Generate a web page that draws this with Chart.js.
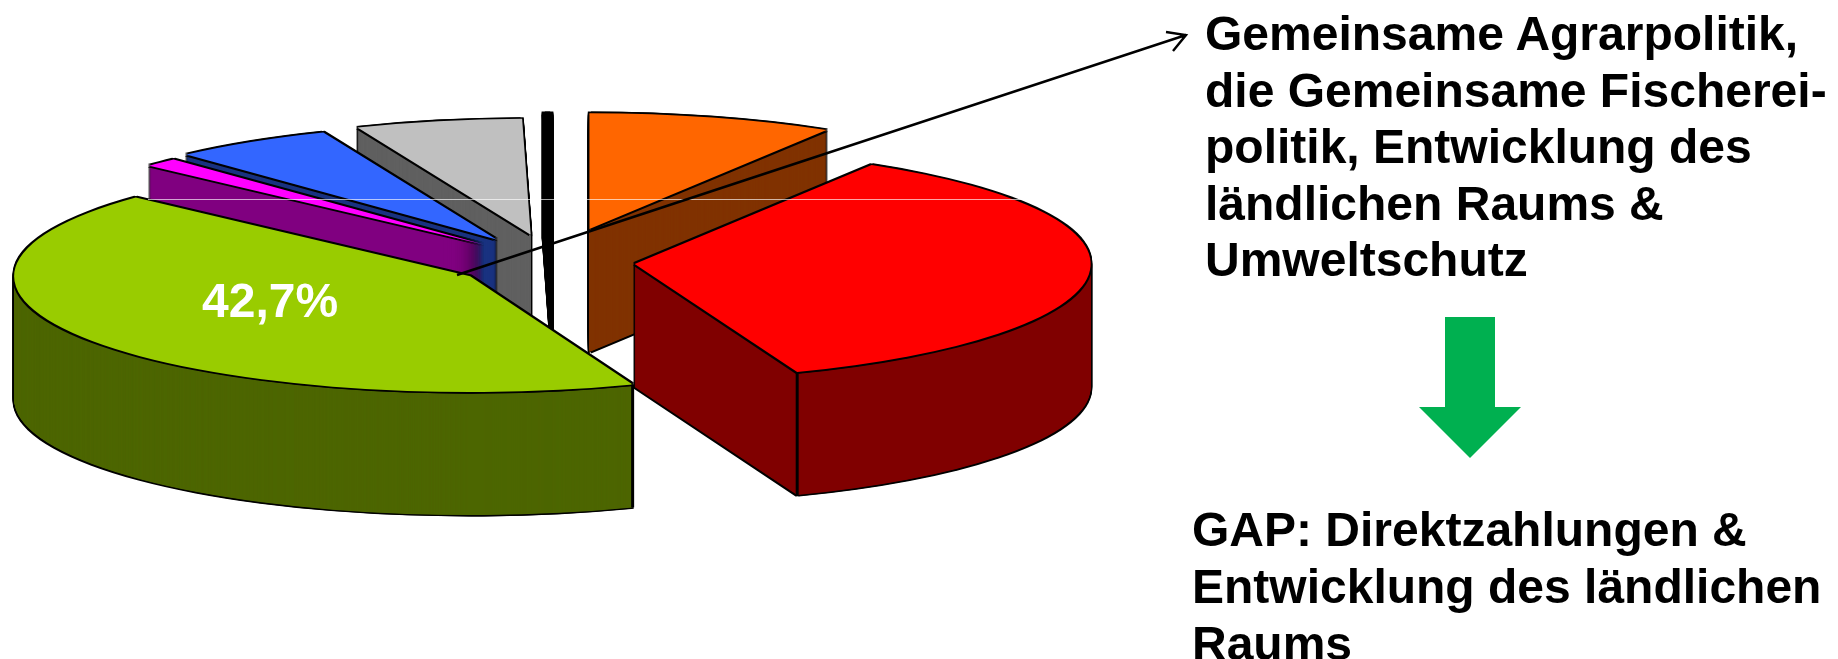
<!DOCTYPE html>
<html lang="de">
<head>
<meta charset="utf-8">
<title>GAP</title>
<script src="https://cdn.jsdelivr.net/npm/chart.js@4/dist/chart.umd.js"></script>
<style>
    html, body { margin: 0; background: #fff; overflow: hidden; }
    #wrap { position: relative; width: 1838px; height: 659px; overflow: hidden; }
    canvas { position: absolute; left: 0; top: 0; }
    .txt { position: absolute; font-family: "Liberation Sans", Arial, sans-serif; font-weight: bold; color: #000; white-space: nowrap; }
    #topText { left: 1205px; top: 6px; font-size: 48px; line-height: 56.5px; }
    #bottomText { left: 1192px; top: 501px; font-size: 48px; line-height: 57px; }
    #pieLabel { left: 202px; top: 274px; font-size: 48px; line-height: 54px; color: #fff; }
</style>
</head>
<body>
<div id="wrap">
    <canvas id="pie" width="1838" height="659"></canvas>
    <div class="txt" id="pieLabel"></div>
    <div class="txt" id="topText">Gemeinsame Agrarpolitik,<br>die Gemeinsame Fischerei-<br>politik, Entwicklung des<br>ländlichen Raums &amp;<br>Umweltschutz</div>
    <div class="txt" id="bottomText">GAP: Direktzahlungen &amp;<br>Entwicklung des ländlichen<br>Raums</div>
</div>
<script>
// values, clockwise from 12 o'clock
const categories = ['Orange', 'Rot', 'Grün', 'Magenta', 'Blau', 'Grau', 'Schwarz'];
const values = [8.7, 35.5, 42.7, 1.2, 5.7, 5.9, 0.3];
const labelledIndex = 2;

const topColors = ['#FF6600', '#FF0000', '#99CC00', '#FF00FF', '#3366FF', '#C0C0C0', '#000000'];
const sideColors = ['#803300', '#800000', '#4D6600', '#800080', '#1A3380', '#606060', '#000000'];
// Chart.js moves a slice by offset / 4
const explode = [540, 328, 400, 392, 420, 440, 520];

const PIE_RADIUS = 456;
const SQUASH = 0.254;   // y scale of the tilted disc
const DEPTH = 123;      // wall height on screen
const OUTLINE = 1.6;

// draw an arc element again in another colour, shifted in screen pixels
function redraw(arc, ctx, color, dx, dy) {
    const original = arc.options;
    ctx.save();
    ctx.translate(dx, dy / SQUASH);
    arc.options = Object.create(original, {
        backgroundColor: { value: color },
        borderWidth: { value: 0 }
    });
    arc.draw(ctx);
    arc.options = original;
    ctx.restore();
}

const tiltedPie = {
    id: 'tiltedPie',
    beforeDatasetsDraw(chart) {
        const ctx = chart.ctx;
        const arcs = chart.getDatasetMeta(0).data;
        const { x, y } = arcs[0];

        // ArcElement widens the radius and narrows the angle of an offset slice unless
        // sin(circumference) is 1, and start/end angle still decide what gets drawn
        arcs.forEach(arc => { arc.circumference = Math.PI / 2; });

        ctx.save();
        ctx.translate(x, y);
        ctx.scale(1, SQUASH);
        ctx.translate(-x, -y);

        // walls, back slices first
        const order = arcs.map((arc, i) => i).sort((a, b) => {
            const mid = arc => (arc.startAngle + arc.endAngle) / 2;
            return Math.sin(mid(arcs[a])) - Math.sin(mid(arcs[b]));
        });
        order.forEach(i => {
            const arc = arcs[i];
            for (let d = -OUTLINE; d <= DEPTH + OUTLINE; d += 1) {
                redraw(arc, ctx, '#000', -OUTLINE, d);
                redraw(arc, ctx, '#000', OUTLINE, d);
            }
            for (let d = DEPTH; d >= 1; d -= 0.5) {
                redraw(arc, ctx, sideColors[i], 0, d);
            }
            redraw(arc, ctx, '#000', -OUTLINE, OUTLINE);
            redraw(arc, ctx, '#000', OUTLINE, OUTLINE);
        });
    },
    afterDatasetsDraw(chart) {
        const ctx = chart.ctx;
        ctx.restore();

        // black edge where a flat wall meets the round wall at the front
        chart.getDatasetMeta(0).data.forEach(arc => {
            const mid = (arc.startAngle + arc.endAngle) / 2;
            const moved = arc.options.offset / 4;
            [arc.startAngle, arc.endAngle].filter(a => Math.sin(a) > 0).forEach(a => {
                const px = arc.x + Math.cos(mid) * moved + Math.cos(a) * arc.outerRadius;
                const py = arc.y + (Math.sin(mid) * moved + Math.sin(a) * arc.outerRadius) * SQUASH;
                ctx.strokeStyle = '#000';
                ctx.lineWidth = 3;
                ctx.beginPath();
                ctx.moveTo(px, py);
                ctx.lineTo(px, py + DEPTH);
                ctx.stroke();
            });
        });
    },
    afterDraw(chart) {
        const ctx = chart.ctx;

        // thin light scan line across the picture
        ctx.fillStyle = 'rgba(255,255,255,0.65)';
        ctx.fillRect(148, 199, 945, 1);

        // leader line to the text
        ctx.strokeStyle = '#000';
        ctx.lineWidth = 2.4;
        ctx.beginPath();
        ctx.moveTo(457, 275);
        ctx.lineTo(1186, 35);
        ctx.moveTo(1166, 32);
        ctx.lineTo(1186, 35);
        ctx.lineTo(1173, 51);
        ctx.stroke();

        // green block arrow
        ctx.fillStyle = '#00B050';
        ctx.beginPath();
        ctx.moveTo(1445, 317);
        ctx.lineTo(1495, 317);
        ctx.lineTo(1495, 407);
        ctx.lineTo(1521, 407);
        ctx.lineTo(1470, 458);
        ctx.lineTo(1419, 407);
        ctx.lineTo(1445, 407);
        ctx.closePath();
        ctx.fill();
    }
};

document.getElementById('pieLabel').textContent =
    values[labelledIndex].toFixed(1).replace('.', ',') + '%';

new Chart(document.getElementById('pie'), {
    type: 'pie',
    data: {
        labels: categories,
        datasets: [{
            data: values,
            backgroundColor: topColors,
            borderWidth: 0,
            offset: explode,
            radius: PIE_RADIUS,
            cutout: '0%',   // a plain 0 gives NaN once the offsets outgrow the chart area
            clip: false
        }]
    },
    options: {
        responsive: false,
        animation: false,
        events: [],
        layout: { padding: { right: 732, bottom: 135 } },
        plugins: {
            legend: { display: false },
            tooltip: { enabled: false }
        }
    },
    plugins: [tiltedPie]
});
</script>
</body>
</html>
